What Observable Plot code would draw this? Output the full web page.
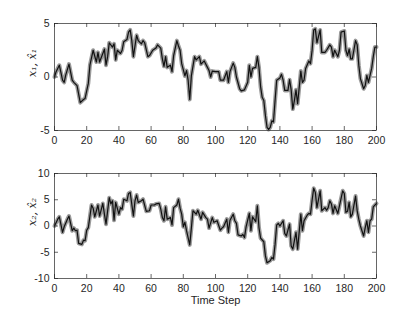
<!DOCTYPE html>
<html><head><meta charset="utf-8">
<script src="https://cdn.jsdelivr.net/npm/d3@7"></script>
<script src="https://cdn.jsdelivr.net/npm/@observablehq/plot@0.6"></script>
<style>body{margin:0;background:#fff;} #c{width:415px;height:312px;} #c svg{display:block;}</style>
</head><body><div id="c"></div>
<script>
// Panel 1: state x1 (true, gray) and estimate x̂1 (black)
const t1 = [0,1,3,5,6,7,9,11,12,14,16,18,19,21,22,24,26,27,28,30,31,32,33,34,36,37,38,39,41,42,43,45,46,47,48,49,51,52,54,55,56,58,59,61,63,64,66,67,68,69,70,72,73,74,76,77,78,79,81,82,83,84,85,87,88,90,91,93,95,96,97,98,100,102,103,105,107,108,109,111,112,113,115,116,118,120,121,122,123,125,126,127,128,129,130,131,132,133,134,135,136,137,138,140,141,142,143,145,146,147,148,149,150,151,153,154,155,156,158,159,160,161,162,163,165,166,168,169,171,172,173,174,176,177,178,180,181,182,183,184,185,187,188,189,190,192,193,194,195,197,198,199,200];
const x1 = [0,0.5,1.1,-0.3,-0.5,0.2,1.2,-0.3,-0.5,-0.8,-2.4,-2.1,-2.0,-0.6,1.1,2.5,1.4,2.3,1.4,2.2,2.6,1.1,1.9,3.2,2.8,3.1,1.6,2.5,2.2,2.5,3.3,3.5,4.2,4.4,3.4,1.9,3.9,3.4,3.1,3.4,3.2,1.9,2.0,2.5,2.7,3.0,2.7,1.7,1.0,1.9,0.9,1.1,0.5,2.0,3.4,2.9,2.5,1.25,0.1,0.6,-0.3,-2.1,0.1,1.9,1.6,1.9,1.2,1.5,0.9,0.6,0.0,0.55,0.5,0.5,-0.3,-0.3,0.5,-0.5,0.5,1.3,0.9,0.0,-1.1,-1.3,-1.2,-0.5,1.1,0.0,0.8,0.9,1.9,0.9,-0.9,-1.9,-2.2,-3.6,-4.7,-4.9,-4.7,-4.1,-4.2,-2.2,-0.3,-0.1,0.25,-0.3,-1.25,-1.25,-0.25,-1.2,-3.0,-2.2,-1.2,-2.5,0.55,-0.5,-0.3,0.8,1.5,1.25,2.5,4.4,4.5,3.2,4.4,2.3,2.3,2.5,3.0,2.8,1.9,2.5,1.9,2.5,4.2,4.3,2.5,2.0,2.6,1.7,1.7,3.4,3.0,1.1,-0.15,-1.1,-0.8,0.15,-0.5,0.8,1.9,2.8,2.8];

// Panel 2: state x2 (true, gray) and estimate x̂2 (black)
const t2 = [0,2,3,5,6,8,9,11,12,13,14,15,17,18,19,20,21,23,24,25,27,28,30,31,32,34,35,36,37,38,40,41,42,43,45,46,47,49,50,51,52,54,55,57,59,60,62,63,65,66,67,68,69,70,72,73,74,76,77,78,79,80,81,82,84,85,86,88,89,91,92,94,95,96,98,99,101,103,104,105,107,108,109,111,112,113,114,116,117,118,119,121,122,123,125,126,127,128,130,131,132,134,135,136,137,138,139,140,142,143,144,146,147,148,150,151,153,154,155,157,158,159,160,161,162,163,165,166,168,169,170,171,172,173,174,176,177,179,180,181,182,183,184,185,187,188,189,190,192,193,194,195,196,197,198,200];
const x2 = [0.0,1.3,1.75,-1.2,-0.15,1.3,1.9,-0.9,-0.4,-0.9,-0.8,-3.3,-3.5,-2.7,-2.8,-0.8,-0.3,4.0,3.4,1.75,4.0,1.9,4.3,2.25,0.35,5.4,4.2,4.8,1.1,4.5,2.25,3.5,3.2,5.1,4.8,6.2,6.4,1.9,4.8,5.9,4.5,4.8,5.1,2.8,2.9,4.0,4.0,4.2,4.3,3.2,1.6,1.0,3.65,1.3,1.6,0.2,3.5,4.0,5.1,3.4,2.25,-0.15,0.7,-0.9,-3.6,-0.4,2.9,2.25,3.0,1.3,2.6,1.6,1.3,-0.4,1.6,0.7,1.0,-0.8,-0.4,-0.15,1.3,-1.2,1.1,2.25,1.0,0.5,-1.7,-1.9,-1.6,-2.2,-0.15,2.4,-0.9,1.75,0.85,3.85,-0.3,-2.3,-3.0,-5.7,-7.0,-6.6,-6.0,-6.3,-3.5,0.2,0.5,0.0,1.0,-1.4,-1.9,0.35,-3.8,-4.4,-1.2,-4.4,2.25,-0.9,1.0,2.1,2.4,2.25,4.9,7.2,6.4,3.5,6.7,2.9,3.5,3.0,3.5,4.8,4.2,2.4,3.85,2.4,3.85,6.7,6.2,2.6,2.8,4.5,1.75,2.25,5.7,2.9,1.3,0.0,-1.9,-0.3,1.0,-1.2,1.0,1.3,3.65,4.3];

const xTicks = [0,20,40,60,80,100,120,140,160,180,200];
const yTicks1 = [-5,0,5];
const yTicks2 = [-10,-5,0,5,10];
const ylabel1 = "x\u2081, x\u0302\u2081";
const ylabel2 = "x\u2082, x\u0302\u2082";
const xlabel = "Time Step";

const W = 415, ML = 54, MR = 39, MT = 23;
const ink = "#262626";

function panel(t, v, yDomain, yTicks, ylab, height, mb, xlab) {
  const h = height - MT - mb;
  const w = W - ML - MR;
  const data = t.map((d, i) => ({t: d, v: v[i]}));
  const marks = [
    Plot.line(data, {x: "t", y: "v", stroke: "#9a9a9a", strokeWidth: 4, curve: "linear", strokeLinejoin: "round"}),
    Plot.line(data, {x: "t", y: "v", stroke: "#111", strokeWidth: 1.2, curve: "linear"}),
    Plot.frame({stroke: ink, strokeWidth: 0.7}),
    Plot.ruleX(xTicks, {insetTop: h - 4, stroke: ink, strokeWidth: 0.7}),
    Plot.ruleX(xTicks, {insetBottom: h - 4, stroke: ink, strokeWidth: 0.7}),
    Plot.ruleY(yTicks, {insetRight: w - 4, stroke: ink, strokeWidth: 0.7}),
    Plot.ruleY(yTicks, {insetLeft: w - 4, stroke: ink, strokeWidth: 0.7}),
    Plot.text([ylab], {frameAnchor: "left", dx: -22, rotate: -90, fontFamily: "DejaVu Serif", fontStyle: "italic", fontSize: 11, fill: ink})
  ];
  if (xlab) marks.push(Plot.text([xlab], {frameAnchor: "bottom", dy: 25, fontSize: 11, fill: ink}));
  return Plot.plot({
    width: W, height, marginTop: MT, marginBottom: mb, marginLeft: ML, marginRight: MR,
    style: {fontFamily: "'Liberation Sans', Arial, sans-serif", fontSize: "10.5px", color: ink, background: "#fff", overflow: "visible"},
    x: {domain: [0, 200], ticks: xTicks, tickSize: 0, tickPadding: 6, tickFormat: d => String(d), label: null},
    y: {domain: yDomain, ticks: yTicks, tickSize: 0, tickPadding: 5, tickFormat: d => String(d), label: null},
    marks
  });
}

const c = document.getElementById("c");
c.appendChild(panel(t1, x1, [-5, 5], yTicks1, ylabel1, 150, 20, null));
c.appendChild(panel(t2, x2, [-10, 10], yTicks2, ylabel2, 162, 34, xlabel));
</script>
</body></html>
